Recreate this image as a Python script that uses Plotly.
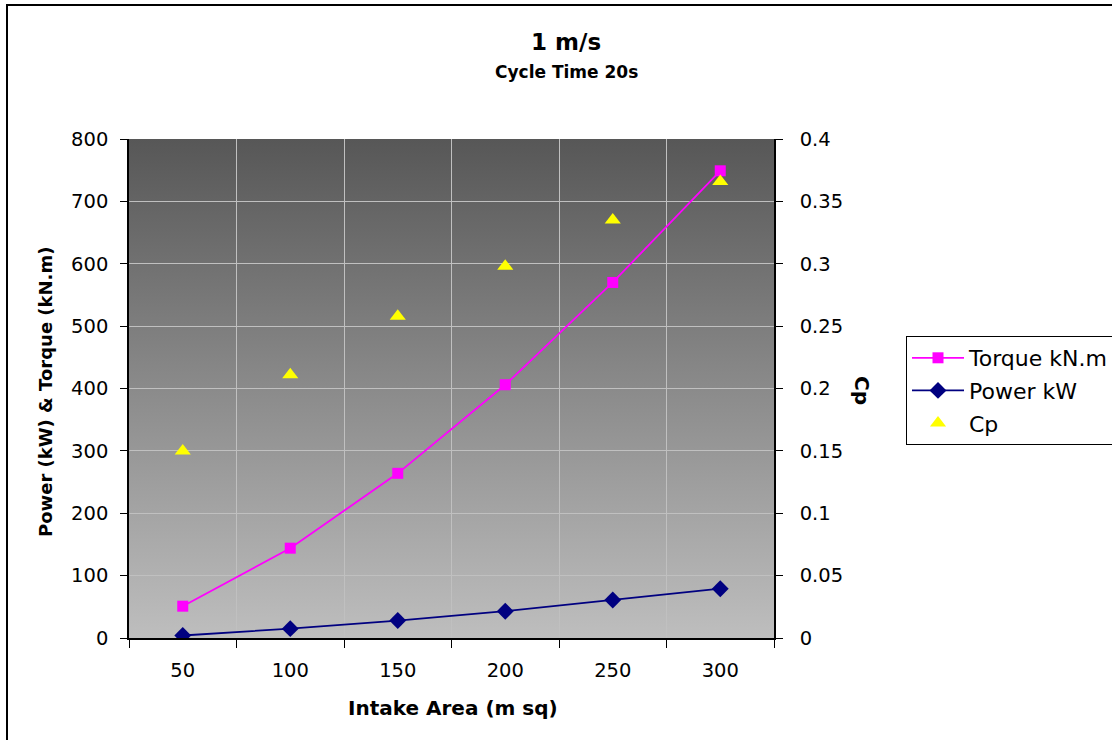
import base64
import plotly.graph_objects as go

# ---- data ----
area = ["50", "100", "150", "200", "250", "300"]
torque = [51, 144, 264, 406, 570, 749]
power = [4, 15, 28, 43, 61, 79]
cp = [0.150, 0.211, 0.258, 0.298, 0.335, 0.366]

title_text = "1 m/s"
subtitle_text = "Cycle Time 20s"
x_title = "Intake Area (m sq)"
y_title = "Power (kW) & Torque (kN.m)"
y2_title = "Cp"

FONT = "DejaVu Sans"

# plot area in pixels: x 129..774, y 139..638 on a 1112x740 page
W, H = 1112, 740
L, R, T, B = 129, 774, 139, 638
pw, ph = R - L, B - T


def px(xp):
    return (xp - L) / pw


def py(yp):
    return (B - yp) / ph


svg = (
    '<svg xmlns="http://www.w3.org/2000/svg" width="100" height="100" '
    'preserveAspectRatio="none" viewBox="0 0 100 100">'
    '<defs><linearGradient id="g" x1="0" y1="0" x2="0" y2="1">'
    '<stop offset="0" stop-color="#575757"/>'
    '<stop offset="1" stop-color="#BEBEBE"/>'
    '</linearGradient></defs>'
    '<rect x="0" y="0" width="100" height="100" fill="url(#g)"/></svg>'
)
svg_uri = "data:image/svg+xml;base64," + base64.b64encode(svg.encode()).decode()

fig = go.Figure()

fig.add_trace(go.Scatter(
    x=area, y=torque, name="Torque kN.m", mode="lines+markers",
    line=dict(color="#FF00FF", width=1.8),
    marker=dict(symbol="square", size=11, color="#FF00FF"),
    legendgroup="a",
))
fig.add_trace(go.Scatter(
    x=area, y=power, name="Power kW", mode="lines+markers",
    line=dict(color="#000080", width=1.8),
    marker=dict(symbol="diamond", size=13, color="#000080"),
    legendgroup="b",
))
fig.add_trace(go.Scatter(
    x=area, y=cp, name="Cp", mode="markers", yaxis="y2",
    marker=dict(symbol="triangle-up", size=14, color="#FFFF00"),
    legendgroup="c",
))

tick_font = dict(family=FONT, size=19.5, color="#000000")

fig.update_layout(
    width=W, height=H,
    margin=dict(l=L, r=W - R, t=T, b=H - B, autoexpand=False),
    paper_bgcolor="#FFFFFF",
    plot_bgcolor="rgba(0,0,0,0)",
    showlegend=True,
    legend=dict(
        x=px(906), y=py(336), xanchor="left", yanchor="top",
        bgcolor="#FFFFFF", bordercolor="#000000", borderwidth=1,
        font=dict(family=FONT, size=22, color="#000000"),
        itemwidth=52, tracegroupgap=1,
    ),
    xaxis=dict(
        type="category", tickson="boundaries",
        showline=True, linecolor="#000000", linewidth=1.5,
        ticks="outside", ticklen=8, tickcolor="#000000",
        showgrid=True, gridcolor="#C0C0C0", gridwidth=1,
        tickfont=tick_font, ticklabelstandoff=14,
        range=[-0.5, 5.5], zeroline=False,
    ),
    yaxis=dict(
        range=[0, 800], dtick=100, tick0=0,
        showline=True, linecolor="#000000", linewidth=1.5,
        ticks="outside", ticklen=7, tickcolor="#000000",
        showgrid=True, gridcolor="#C0C0C0", gridwidth=1,
        tickfont=tick_font, ticklabelstandoff=8, zeroline=False,
    ),
    yaxis2=dict(
        overlaying="y", side="right",
        range=[0, 0.4], dtick=0.05, tick0=0,
        showline=True, linecolor="#000000", linewidth=1.5,
        ticks="outside", ticklen=7, tickcolor="#000000",
        showgrid=False, tickfont=tick_font, ticklabelstandoff=13,
        zeroline=False,
    ),
    images=[dict(
        source=svg_uri, xref="paper", yref="paper",
        x=0, y=1, sizex=1, sizey=1, xanchor="left", yanchor="top",
        sizing="stretch", layer="below",
    )],
    shapes=[dict(
        type="rect", xref="paper", yref="paper",
        x0=px(7), x1=px(1200), y0=py(760), y1=py(5),
        line=dict(color="#000000", width=2), fillcolor="rgba(0,0,0,0)",
        layer="above",
    )],
    annotations=[
        dict(text="<b>" + title_text + "</b>", xref="paper", yref="paper",
             x=px(566), y=py(42), showarrow=False, xanchor="center", yanchor="middle",
             font=dict(family=FONT, size=23, color="#000000")),
        dict(text="<b>" + subtitle_text + "</b>", xref="paper", yref="paper",
             x=px(566), y=py(72), showarrow=False, xanchor="center", yanchor="middle",
             font=dict(family=FONT, size=17, color="#000000")),
        dict(text="<b>" + x_title + "</b>", xref="paper", yref="paper",
             x=px(453), y=py(708), showarrow=False, xanchor="center", yanchor="middle",
             font=dict(family=FONT, size=20, color="#000000")),
        dict(text="<b>" + y_title + "</b>", xref="paper", yref="paper",
             x=px(45), y=py(392), showarrow=False, xanchor="center", yanchor="middle",
             textangle=-90,
             font=dict(family=FONT, size=18, color="#000000")),
        dict(text="<b>" + y2_title + "</b>", xref="paper", yref="paper",
             x=px(862), y=py(390), showarrow=False, xanchor="center", yanchor="middle",
             textangle=90,
             font=dict(family=FONT, size=20, color="#000000")),
    ],
)

fig.write_html("out.html", config={"displayModeBar": False},
               post_script="document.body.style.margin='0';")
